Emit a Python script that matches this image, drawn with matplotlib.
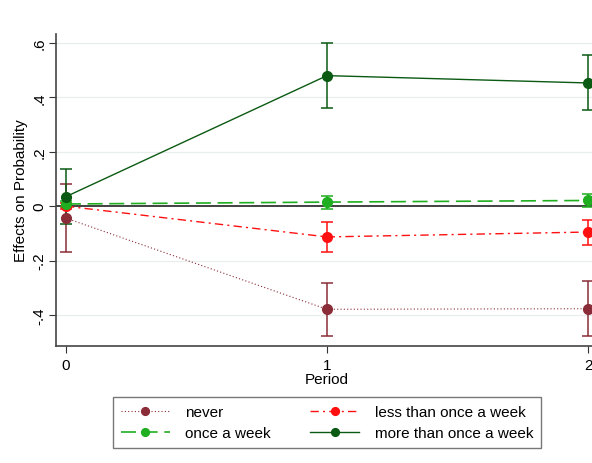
import matplotlib
matplotlib.use("Agg")
import matplotlib.pyplot as plt
import numpy as np

plt.rcParams['font.family'] = ['Liberation Sans', 'DejaVu Sans']

periods = [0, 1, 2]

never = [-0.044, -0.379, -0.377]
never_lo = [-0.167, -0.477, -0.477]
never_hi = [0.083, -0.281, -0.275]

less = [0.000, -0.113, -0.095]
less_lo = [-0.010, -0.168, -0.144]
less_hi = [0.010, -0.057, -0.052]

once = [0.008, 0.015, 0.021]
once_lo = [-0.004, -0.011, -0.002]
once_hi = [0.020, 0.038, 0.043]

more = [0.035, 0.480, 0.453]
more_lo = [-0.066, 0.361, 0.352]
more_hi = [0.136, 0.599, 0.556]

y_ticks = [-0.4, -0.2, 0, 0.2, 0.4, 0.6]
y_labels = ["-.4", "-.2", "0", ".2", ".4", ".6"]

fig = plt.figure(figsize=(5.92, 4.64), dpi=100)
ax = fig.add_axes([56 / 592, 117 / 464, 542 / 592, 312 / 464])

ax.set_xlim(-0.038, 2.038)
ax.set_ylim(-0.514, 0.633)

for yt in y_ticks:
    if yt != 0:
        ax.axhline(yt, color="#e8eeee", lw=0.9, zorder=0)
ax.axhline(0, color="#333333", lw=1.3, zorder=1)

series = [
    ("never", never, never_lo, never_hi, "#8a2d38", (0, (1, 2)), 0.8),
    ("less than once a week", less, less_lo, less_hi, "#ff1010", (0, (6, 3, 1.5, 3)), 1.0),
    ("once a week", once, once_lo, once_hi, "#1fae1f", (0, (9, 4)), 1.2),
    ("more than once a week", more, more_lo, more_hi, "#0b5a13", "-", 1.0),
]

handles = {}
for name, val, lo, hi, col, ls, lw in series:
    v = np.array(val)
    yerr = [v - np.array(lo), np.array(hi) - v]
    ax.errorbar(periods, val, yerr=yerr, fmt="none", ecolor=col, elinewidth=1.1,
                capsize=4, capthick=1.1, zorder=2)
    h, = ax.plot(periods, val, color=col, ls=ls, lw=lw, marker="o", markersize=7,
                 markerfacecolor=col, markeredgecolor=col, zorder=3, clip_on=False)
    handles[name] = h

ax.set_xticks(periods)
ax.set_yticks(y_ticks)
ax.set_yticklabels(y_labels, rotation=90, va="center")
ax.tick_params(axis="both", labelsize=11, color="#333333", length=5)
ax.tick_params(axis="y", pad=2)
for s in ["top", "right"]:
    ax.spines[s].set_visible(False)
for s in ["left", "bottom"]:
    ax.spines[s].set_color("#444444")
    ax.spines[s].set_linewidth(1.2)

ax.set_xlabel("Period", fontsize=11, labelpad=0)
ax.set_ylabel("Effects on Probability", fontsize=11, labelpad=3)

order = ["never", "once a week", "less than once a week", "more than once a week"]
leg = fig.legend([handles[k] for k in order], order, ncol=2, loc="center",
                 bbox_to_anchor=(327 / 592, 1 - 423.5 / 464), fontsize=11,
                 frameon=True, fancybox=False, edgecolor="#555555",
                 handlelength=3.2, handletextpad=1.0, columnspacing=2.6,
                 borderpad=0.55, labelspacing=0.45, markerscale=0.8)
leg.get_frame().set_linewidth(1.0)

fig.savefig("out.png", dpi=100)
